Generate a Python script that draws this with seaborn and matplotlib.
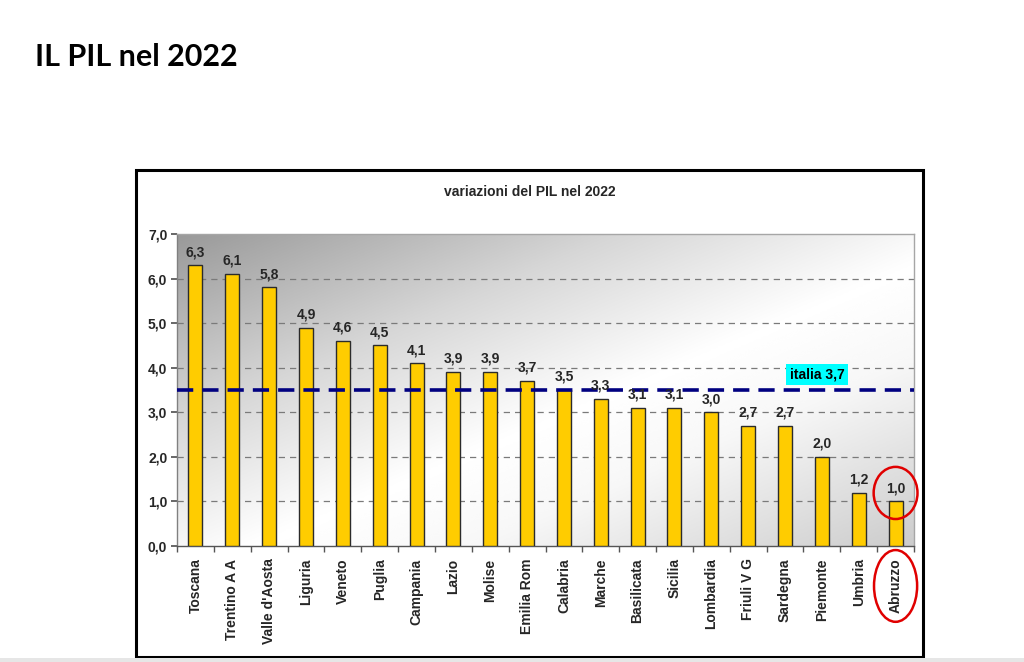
import matplotlib.pyplot as plt
import numpy as np
import seaborn as sns
from matplotlib.patches import Ellipse, Rectangle
from matplotlib.ticker import FuncFormatter
from matplotlib.transforms import blended_transform_factory

# dati: variazione del PIL 2022 per regione
regioni = ["Toscana", "Trentino A A", "Valle d'Aosta", "Liguria", "Veneto", "Puglia",
           "Campania", "Lazio", "Molise", "Emilia Rom", "Calabria", "Marche",
           "Basilicata", "Sicilia", "Lombardia", "Friuli V G", "Sardegna",
           "Piemonte", "Umbria", "Abruzzo"]
valori = [6.3, 6.1, 5.8, 4.9, 4.6, 4.5, 4.1, 3.9, 3.9, 3.7, 3.5, 3.3,
          3.1, 3.1, 3.0, 2.7, 2.7, 2.0, 1.2, 1.0]
italia_linea = 3.5
italia_testo = "italia 3,7"
evidenziata = "Abruzzo"

sns.set_theme(style="white")
plt.rcParams["font.family"] = ["Liberation Sans", "DejaVu Sans"]


def virgola(v, dec=1):
    return f"{v:.{dec}f}".replace(".", ",")


fig = plt.figure(figsize=(10.24, 6.62), dpi=100)
fig.patch.set_facecolor("white")
ax = fig.add_axes([177 / 1024, 116 / 662, 737 / 1024, 312 / 662])

# sfondo sfumato dell'area del grafico
u, v = np.meshgrid(np.linspace(0, 1, 300), np.linspace(0, 1, 200))
t = (u + v) / 2  # 0 in alto a sinistra, 1 in basso a destra (imshow origin upper)
grad = np.interp(t, [0, 0.3, 0.55, 0.7, 1.0], [0.6, 0.84, 1.0, 0.97, 0.80])
ax.imshow(grad, cmap="gray", vmin=0, vmax=1, extent=(0, 1, 0, 1),
          transform=ax.transAxes, aspect="auto", zorder=0, interpolation="bicubic")

sns.barplot(x=regioni, y=valori, color="#FFCC00", width=0.38, edgecolor="#2b2b2b",
            linewidth=1, saturation=1, ax=ax, zorder=3)

ax.set_xlim(-0.5, len(regioni) - 0.5)
ax.set_ylim(0, 7)
ax.set_yticks(np.arange(0, 8, 1))
ax.yaxis.set_major_formatter(FuncFormatter(lambda val, pos: virgola(val)))
ax.set_xlabel("")
ax.set_ylabel("")

# griglia tratteggiata
for yv in range(1, 7):
    ax.axhline(yv, color="#7a7a7a", linewidth=0.9, linestyle=(0, (5, 4)), zorder=1)

# linea media italiana
ax.axhline(italia_linea, color="#000080", linewidth=2.6, linestyle=(0, (4.5, 2.5)), zorder=4)
ax.text(16.87, 3.84, italia_testo, ha="center", va="center", fontsize=10,
        fontweight="bold", color="black", zorder=5,
        bbox=dict(boxstyle="square,pad=0.25", facecolor="#00FFFF", edgecolor="none"))

# etichette valori
for i, val in enumerate(valori):
    ax.annotate(virgola(val), (i, val), xytext=(0, 9.5), textcoords="offset points",
                ha="center", va="center", fontsize=10, fontweight="bold", zorder=5)

# assi
ax.tick_params(axis="x", which="major", length=0)
ax.set_xticks(np.arange(-0.5, len(regioni), 1), minor=True)
ax.tick_params(axis="x", which="minor", length=4, color="#555555", direction="out", bottom=True)
ax.tick_params(axis="y", length=4, color="#555555", direction="out", left=True,
               labelsize=10, pad=3)
ax.set_xticklabels(regioni, rotation=90, fontsize=10, fontweight="bold")
ax.tick_params(axis="x", pad=9)
for lab in ax.get_yticklabels():
    lab.set_fontweight("bold")
ax.spines["left"].set_color("#808080")
ax.spines["bottom"].set_color("#555555")
ax.spines["top"].set_color("#a6a6a6")
ax.spines["right"].set_color("#a6a6a6")
for s in ax.spines.values():
    s.set_linewidth(1)
    s.set_visible(True)

# evidenziazione Abruzzo
idx = regioni.index(evidenziata)
ax.add_patch(Ellipse((idx, valori[idx] + 0.19), width=1.19, height=1.17, fill=False,
                     edgecolor="#e00000", linewidth=1.8, zorder=6, clip_on=False))
bt = blended_transform_factory(ax.transData, ax.transAxes)
ax.add_patch(Ellipse((idx, -0.128), width=1.17, height=0.23, fill=False,
                     edgecolor="#e00000", linewidth=1.8, transform=bt, clip_on=False, zorder=6))

# titolo del grafico e cornice
fig.text(529.5 / 1024, 1 - 192 / 662, "variazioni del PIL nel 2022", ha="center", va="center",
         fontsize=10, fontweight="bold")
fig.patches.append(Rectangle((136 / 1024, 5 / 662), 787 / 1024, 487 / 662, fill=False,
                             edgecolor="black", linewidth=2.2, transform=fig.transFigure))
fig.patches.append(Rectangle((0, 0), 1, 4 / 662, facecolor="#e6e6e6", edgecolor="none",
                             transform=fig.transFigure))

# titolo della slide
fig.text(35 / 1024, 1 - 57 / 662, "IL PIL nel 2022", ha="left", va="center",
         fontsize=22, fontweight="bold", color="black", family=["Lato", "DejaVu Sans"])

fig.savefig("out.png", dpi=100)
